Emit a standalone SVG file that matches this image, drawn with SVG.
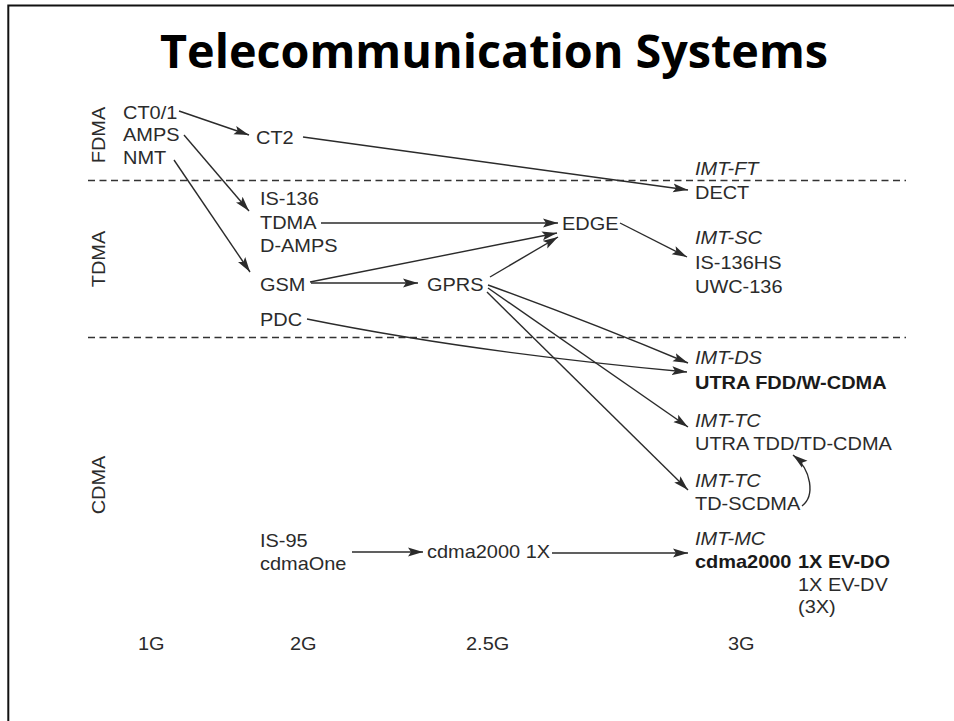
<svg xmlns="http://www.w3.org/2000/svg" width="954" height="721" viewBox="0 0 954 721">
  <defs>
    <marker id="arrow" markerUnits="userSpaceOnUse" markerWidth="16" markerHeight="10" refX="15" refY="5" orient="auto">
      <path d="M0,0.6 L15,5 L0,9.4 L3,5 Z" fill="#2b2b2b"/>
    </marker>
    <style>
      .frame { stroke: #111; stroke-width: 2; fill: none; }
      .title { font-family: "Open Sans", "Noto Sans", sans-serif; font-weight: bold; font-size: 47px; fill: #000; }
      .t { font-family: "Liberation Sans", Arial, Helvetica, sans-serif; font-size: 19px; fill: #2b2b2b; }
      .i { font-style: italic; }
      .b { font-weight: bold; fill: #1a1a1a; }
      .axis { font-family: "Liberation Sans", Arial, Helvetica, sans-serif; font-size: 19px; fill: #2b2b2b; text-anchor: middle; }
      .sep { stroke: #333; stroke-width: 1.4; stroke-dasharray: 7 4.5; fill: none; }
      .link { stroke: #2b2b2b; stroke-width: 1.4; fill: none; marker-end: url(#arrow); }
    </style>
  </defs>

  <rect width="954" height="721" fill="#fff"/>

  <!-- page frame: top and left rules only -->
  <path class="frame" d="M8.3,721 L8.3,5.5 L954,5.5"/>

  <text class="title" x="160" y="68" textLength="668" lengthAdjust="spacingAndGlyphs">Telecommunication Systems</text>

  <!-- access-scheme bands -->
  <g id="bands">
    <line class="sep" x1="88" y1="180.5" x2="906" y2="180.5"/>
    <line class="sep" x1="88" y1="337.5" x2="906" y2="337.5"/>
    <text class="axis" transform="translate(105,135) rotate(-90) scale(1.05 1)">FDMA</text>
    <text class="axis" transform="translate(105,259) rotate(-90) scale(1.05 1)">TDMA</text>
    <text class="axis" transform="translate(105,485) rotate(-90) scale(1.05 1)">CDMA</text>
  </g>

  <!-- generation axis -->
  <g id="generations">
    <text class="t" transform="translate(138,650) scale(1.05 1)">1G</text>
    <text class="t" transform="translate(290,650) scale(1.05 1)">2G</text>
    <text class="t" transform="translate(466,650) scale(1.05 1)">2.5G</text>
    <text class="t" transform="translate(728,650) scale(1.05 1)">3G</text>
  </g>

  <!-- 1G -->
  <g id="ct01"><text class="t" transform="translate(123,119) scale(1.05 1)">CT0/1</text></g>
  <g id="amps"><text class="t" transform="translate(123,141) scale(1.05 1)">AMPS</text></g>
  <g id="nmt"><text class="t" transform="translate(123,164) scale(1.05 1)">NMT</text></g>

  <!-- 2G -->
  <g id="ct2"><text class="t" transform="translate(256,144) scale(1.05 1)">CT2</text></g>
  <g id="is136">
    <text class="t" transform="translate(260,205) scale(1.05 1)">IS-136</text>
    <text class="t" transform="translate(260,229) scale(1.05 1)">TDMA</text>
    <text class="t" transform="translate(260,252) scale(1.05 1)">D-AMPS</text>
  </g>
  <g id="gsm"><text class="t" transform="translate(260,291) scale(1.05 1)">GSM</text></g>
  <g id="pdc"><text class="t" transform="translate(260,326) scale(1.05 1)">PDC</text></g>
  <g id="is95">
    <text class="t" transform="translate(260,547) scale(1.05 1)">IS-95</text>
    <text class="t" transform="translate(260,570) scale(1.05 1)">cdmaOne</text>
  </g>

  <!-- 2.5G -->
  <g id="gprs"><text class="t" transform="translate(427,291) scale(1.05 1)">GPRS</text></g>
  <g id="edge"><text class="t" transform="translate(562,230) scale(1.05 1)">EDGE</text></g>
  <g id="cdma2000-1x"><text class="t" transform="translate(427,558) scale(1.05 1)">cdma2000 1X</text></g>

  <!-- 3G -->
  <g id="imt-ft">
    <text class="t i" transform="translate(695,175) scale(1.05 1)">IMT-FT</text>
    <text class="t" transform="translate(695,199) scale(1.05 1)">DECT</text>
  </g>
  <g id="imt-sc">
    <text class="t i" transform="translate(695,244) scale(1.05 1)">IMT-SC</text>
    <text class="t" transform="translate(695,269) scale(1.05 1)">IS-136HS</text>
    <text class="t" transform="translate(695,293) scale(1.05 1)">UWC-136</text>
  </g>
  <g id="imt-ds">
    <text class="t i" transform="translate(695,364) scale(1.05 1)">IMT-DS</text>
    <text class="t b" transform="translate(695,389) scale(1.05 1)">UTRA FDD/W-CDMA</text>
  </g>
  <g id="imt-tc-tdd">
    <text class="t i" transform="translate(695,427) scale(1.05 1)">IMT-TC</text>
    <text class="t" transform="translate(695,450) scale(1.05 1)">UTRA TDD/TD-CDMA</text>
  </g>
  <g id="imt-tc-scdma">
    <text class="t i" transform="translate(695,487) scale(1.05 1)">IMT-TC</text>
    <text class="t" transform="translate(695,510) scale(1.05 1)">TD-SCDMA</text>
  </g>
  <g id="imt-mc">
    <text class="t i" transform="translate(695,545) scale(1.05 1)">IMT-MC</text>
    <text class="t b" transform="translate(695,568) scale(1.05 1)">cdma2000</text>
    <text class="t b" transform="translate(798,568) scale(1.05 1)">1X EV-DO</text>
    <text class="t" transform="translate(798,591) scale(1.05 1)">1X EV-DV</text>
    <text class="t" transform="translate(798,613) scale(1.05 1)">(3X)</text>
  </g>

  <!-- evolution paths -->
  <g id="connectors">
    <line class="link" x1="179" y1="111" x2="249" y2="135"/>
    <line class="link" x1="184" y1="135" x2="249" y2="211"/>
    <line class="link" x1="174" y1="160" x2="250" y2="272"/>
    <line class="link" x1="303" y1="137" x2="688" y2="190"/>
    <line class="link" x1="321" y1="223" x2="558" y2="223"/>
    <line class="link" x1="310" y1="282" x2="557" y2="233"/>
    <line class="link" x1="311" y1="283" x2="418" y2="283"/>
    <line class="link" x1="490" y1="277" x2="558" y2="237"/>
    <line class="link" x1="620" y1="223" x2="687" y2="257"/>
    <path class="link" d="M488,285 Q590,322 688,363"/>
    <path class="link" d="M307,319 Q470,352 687,372"/>
    <line class="link" x1="488" y1="288" x2="688" y2="427"/>
    <line class="link" x1="487" y1="292" x2="688" y2="490"/>
    <line class="link" x1="352" y1="552" x2="423" y2="552"/>
    <line class="link" x1="552" y1="553" x2="688" y2="553"/>
    <path class="link" d="M802,506 C815,496 812,470 793,455"/>
  </g>
</svg>
